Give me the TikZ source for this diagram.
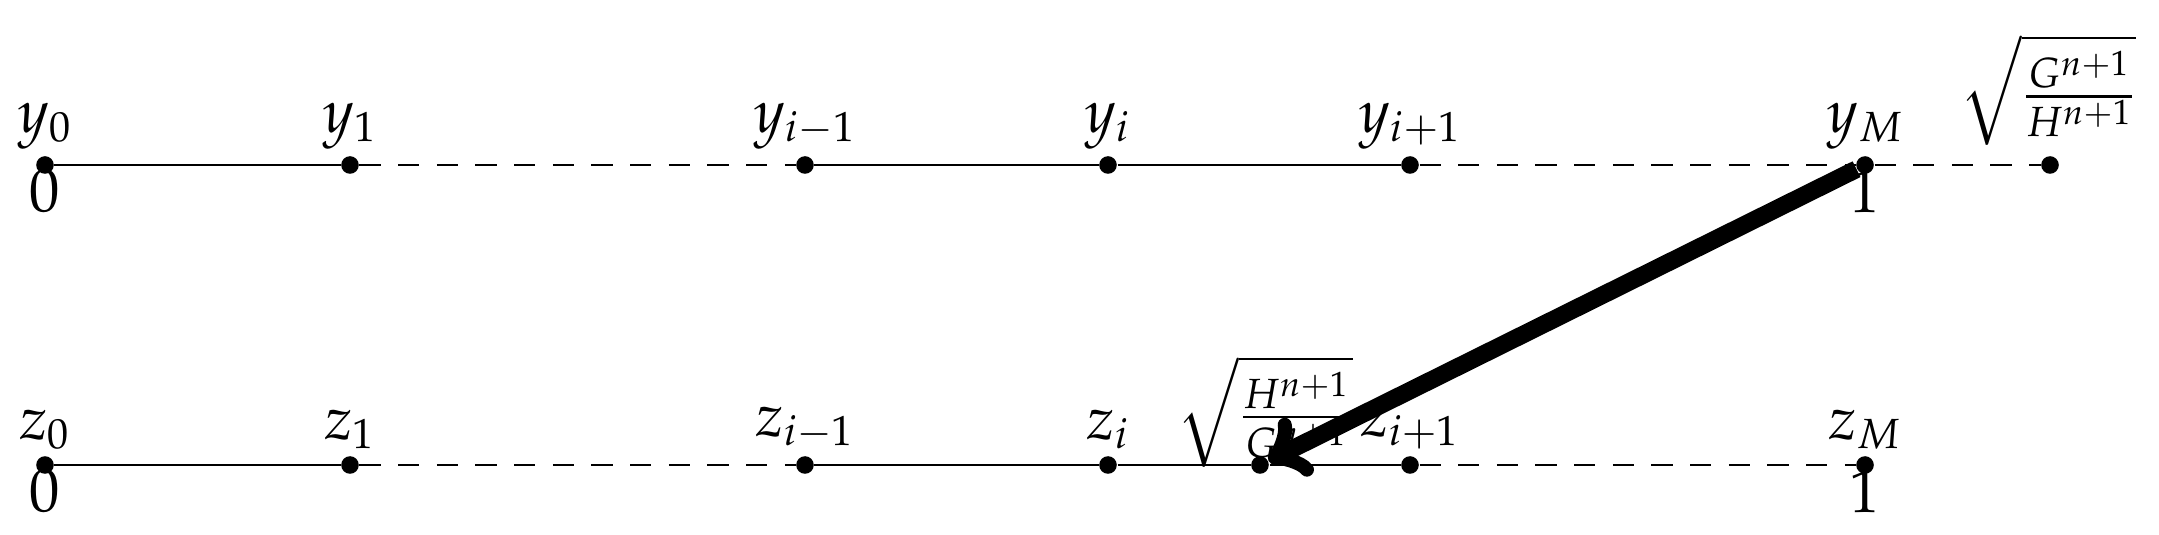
\documentclass[tikz,border=0pt]{standalone}
\usepackage{amssymb}
\usepackage{mathtools}
\usepackage{mathpazo}
\usetikzlibrary{graphs,positioning}
\begin{document}
\begin{tikzpicture}[main/.style={circle,fill,inner sep=0pt,minimum size=5pt},
	lab/.style={font=\LARGE}, brutt/.style={dash pattern=on 6pt off 5pt}]
	\useasboundingbox (0,0) rectangle (21.59,5.35);
	%Punktene på øverste linje
	\node[main] (y0) at (0.45,3.70) {};
	\node[main] (y1) at (3.50,3.70) {};
	\node[main] (yim) at (8.05,3.70) {};
	\node[main] (yi) at (11.08,3.70) {};
	\node[main] (yip) at (14.10,3.70) {};
	\node[main] (yM) at (18.65,3.70) {};
	\node[main] (yE) at (20.50,3.70) {};
	%Punktene på nederste linje
	\node[main] (z0) at (0.45,0.70) {};
	\node[main] (z1) at (3.50,0.70) {};
	\node[main] (zim) at (8.05,0.70) {};
	\node[main] (zi) at (11.08,0.70) {};
	\node[main] (zE) at (12.60,0.70) {};
	\node[main] (zip) at (14.10,0.70) {};
	\node[main] (zM) at (18.65,0.70) {};

	%Tekst
	\foreach \n/\t in {y0/y_0,y1/y_1,yim/y_{i-1},yi/y_i,yip/y_{i+1},yM/y_M,
		z0/z_0,z1/z_1,zim/z_{i-1},zi/z_i,zip/z_{i+1},zM/z_M}
		\node[lab,above=1pt] at (\n) {$\t$};
	\node[lab,below=-2pt] at (y0) {$0$};
	\node[lab,below=-2pt] at (yM) {$1$};
	\node[lab,below=-2pt] at (z0) {$0$};
	\node[lab,below=-2pt] at (zM) {$1$};
	\node[lab,above left=0pt and -30pt of yE] {$\sqrt{\frac{G^{n+1}}{H^{n+1}}}$};
	\node[lab,above left=-6pt and -32pt of zE] {$\sqrt{\frac{H^{n+1}}{G^{n+1}}}$};

	%Linjene
	\graph {
		(y0) -- (y1) --[brutt] (yim) -- (yi) -- (yip) --[brutt] (yM) --[brutt] (yE);
		(z0) -- (z1) --[brutt] (zim) -- (zi) -- (zE) -- (zip) --[brutt] (zM);
	};
	\draw[line width=5pt,->] (yM) -- (zE);
\end{tikzpicture}
\end{document}
